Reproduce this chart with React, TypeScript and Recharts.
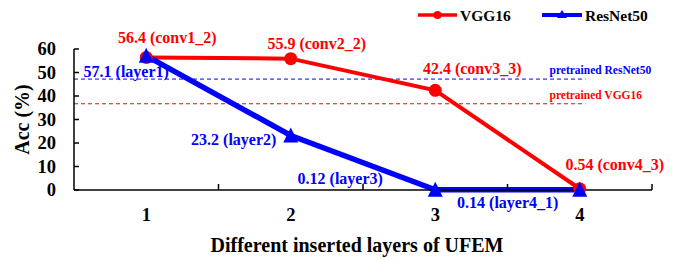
import { Label, LabelList, Legend, Line, LineChart, ReferenceLine, XAxis, YAxis } from "recharts"

const steps = [1, 2, 3, 4]
const vggAcc = [56.4, 55.9, 42.4, 0.54]
const resnetAcc = [57.1, 23.2, 0.12, 0.14]
const vggLayers = ["conv1_2", "conv2_2", "conv3_3", "conv4_3"]
const resnetLayers = ["layer1", "layer2", "layer3", "layer4_1"]
const yTicks = [0, 10, 20, 30, 40, 50, 60]
const xTicks = [1, 1.5, 2, 2.5, 3, 3.5, 4, 4.5]
const pretrainedResnet = 47.2
const pretrainedVgg = 36.7

const data = steps.map((s, i) => ({ step: s, vgg: vggAcc[i], resnet: resnetAcc[i] }))

// label nudges (dx, dy) from each point
const vggLabelOffset = [[21, -20], [26, -15], [37, -22], [35, -24]]
const resnetLabelOffset = [[-20, 16], [-57, 4], [-95, -11], [-72, 13]]

const RED = "#ff0000"
const BLUE = "#0000ff"
const txt = (size: number, fill: string) => ({
  fontFamily: '"Liberation Serif", "Times New Roman", Times, serif',
  fontWeight: 700,
  fontSize: size,
  fill,
})

const XTick = (props: any) => {
  const { x, y, payload } = props
  const v = payload.value
  if (Number.isInteger(v)) {
    return (
      <text x={x} y={y + 25} textAnchor="middle" dominantBaseline="central" style={txt(18.5, "#000")}>
        {v}
      </text>
    )
  }
  return <line x1={x} x2={x} y1={y} y2={y - 6} stroke="#000" strokeWidth={1.5} />
}

const YTick = (props: any) => {
  const { x, y, payload } = props
  return (
    <g>
      <line x1={x} x2={x + 5} y1={y} y2={y} stroke="#000" strokeWidth={1.5} />
      <text x={x - 18} y={y} textAnchor="end" dominantBaseline="central" style={txt(18.5, "#000")}>
        {payload.value}
      </text>
    </g>
  )
}

const Circle = (props: any) => {
  const { cx, cy, index } = props
  return <circle key={`c-${index}`} cx={cx} cy={cy} r={6.5} fill={RED} />
}

const Triangle = (props: any) => {
  const { cx, cy, index } = props
  return (
    <polygon key={`t-${index}`}
      points={`${cx},${cy - 8} ${cx - 7.5},${cy + 7} ${cx + 7.5},${cy + 7}`}
      fill={BLUE} />
  )
}

const pointLabel = (names: string[], offsets: number[][], color: string) => (props: any) => {
  const { x, y, index, value } = props
  const [dx, dy] = offsets[index]
  return (
    <text x={x + dx} y={y + dy} textAnchor="middle" dominantBaseline="central" style={txt(16, color)}>
      {`${value} (${names[index]})`}
    </text>
  )
}

const refLabel = (text: string, color: string) => (props: any) => {
  const vb = props.viewBox || {}
  return (
    <text x={(vb.x ?? 74) + (vb.width ?? 511) - 36} y={(vb.y ?? 0) - 9}
      dominantBaseline="central" style={txt(11.5, color)}>
      {text}
    </text>
  )
}

const LegendBox = () => (
  <svg width={678} height={30} style={{ display: "block" }}>
    <line x1={418} x2={457} y1={15} y2={15} stroke={RED} strokeWidth={3.5} />
    <circle cx={437.5} cy={15} r={4} fill={RED} />
    <text x={460} y={15} dominantBaseline="central" style={txt(15.5, "#000")}>VGG16</text>
    <line x1={542} x2={582} y1={15} y2={15} stroke={BLUE} strokeWidth={4} />
    <polygon points="562,10 557,18 567,18" fill={BLUE} />
    <text x={585} y={15} dominantBaseline="central" style={txt(15.5, "#000")}>ResNet50</text>
  </svg>
)

export default function App() {
  return (
    <div style={{ position: "absolute", left: 0, top: 0 }}>
      <LineChart width={678} height={259} data={data}
        margin={{ top: 19, right: 26, bottom: 0, left: 0 }}>
        <Legend verticalAlign="top" align="right" height={30}
          wrapperStyle={{ top: 0, left: 0, width: 678, height: 30 }}
          content={() => <LegendBox />} />
        <XAxis dataKey="step" type="number" domain={[0.5, 4.5]} ticks={xTicks}
          interval={0} height={69} tickSize={0} tickMargin={0} tickLine={false}
          tick={<XTick />} stroke="#000" strokeWidth={1.5}>
          <Label content={(p: any) => {
            const vb = p.viewBox
            return (
              <text x={vb.x + vb.width / 2 - 6} y={vb.y + 55} textAnchor="middle"
                dominantBaseline="central" style={txt(20, "#000")}>
                Different inserted layers of UFEM
              </text>
            )
          }} />
        </XAxis>
        <YAxis domain={[0, 60]} ticks={yTicks} width={74} tickSize={0}
          tickMargin={0} tickLine={false} tick={<YTick />} stroke="#000"
          strokeWidth={1.5}>
          <Label content={(p: any) => {
            const vb = p.viewBox
            const cy = vb.y + vb.height / 2
            return (
              <text x={22} y={cy} textAnchor="middle" dominantBaseline="central"
                transform={`rotate(-90 22 ${cy})`} style={txt(20, "#000")}>
                Acc (%)
              </text>
            )
          }} />
        </YAxis>
        <ReferenceLine segment={[{ x: 0.5, y: pretrainedResnet }, { x: 4.04, y: pretrainedResnet }]}
          stroke={BLUE} strokeDasharray="4 3" strokeWidth={1}>
          <Label content={refLabel("pretrained ResNet50", BLUE)} />
        </ReferenceLine>
        <ReferenceLine segment={[{ x: 0.5, y: pretrainedVgg }, { x: 4.04, y: pretrainedVgg }]}
          stroke={RED} strokeDasharray="4 3" strokeWidth={1}>
          <Label content={refLabel("pretrained VGG16", RED)} />
        </ReferenceLine>
        <Line type="linear" dataKey="vgg" name="VGG16" stroke={RED} strokeWidth={4}
          dot={<Circle />} activeDot={false} isAnimationActive={false}>
          <LabelList dataKey="vgg" content={pointLabel(vggLayers, vggLabelOffset, RED)} />
        </Line>
        <Line type="linear" dataKey="resnet" name="ResNet50" stroke={BLUE} strokeWidth={5.5}
          dot={<Triangle />} activeDot={false} isAnimationActive={false}>
          <LabelList dataKey="resnet" content={pointLabel(resnetLayers, resnetLabelOffset, BLUE)} />
        </Line>
      </LineChart>
    </div>
  )
}
